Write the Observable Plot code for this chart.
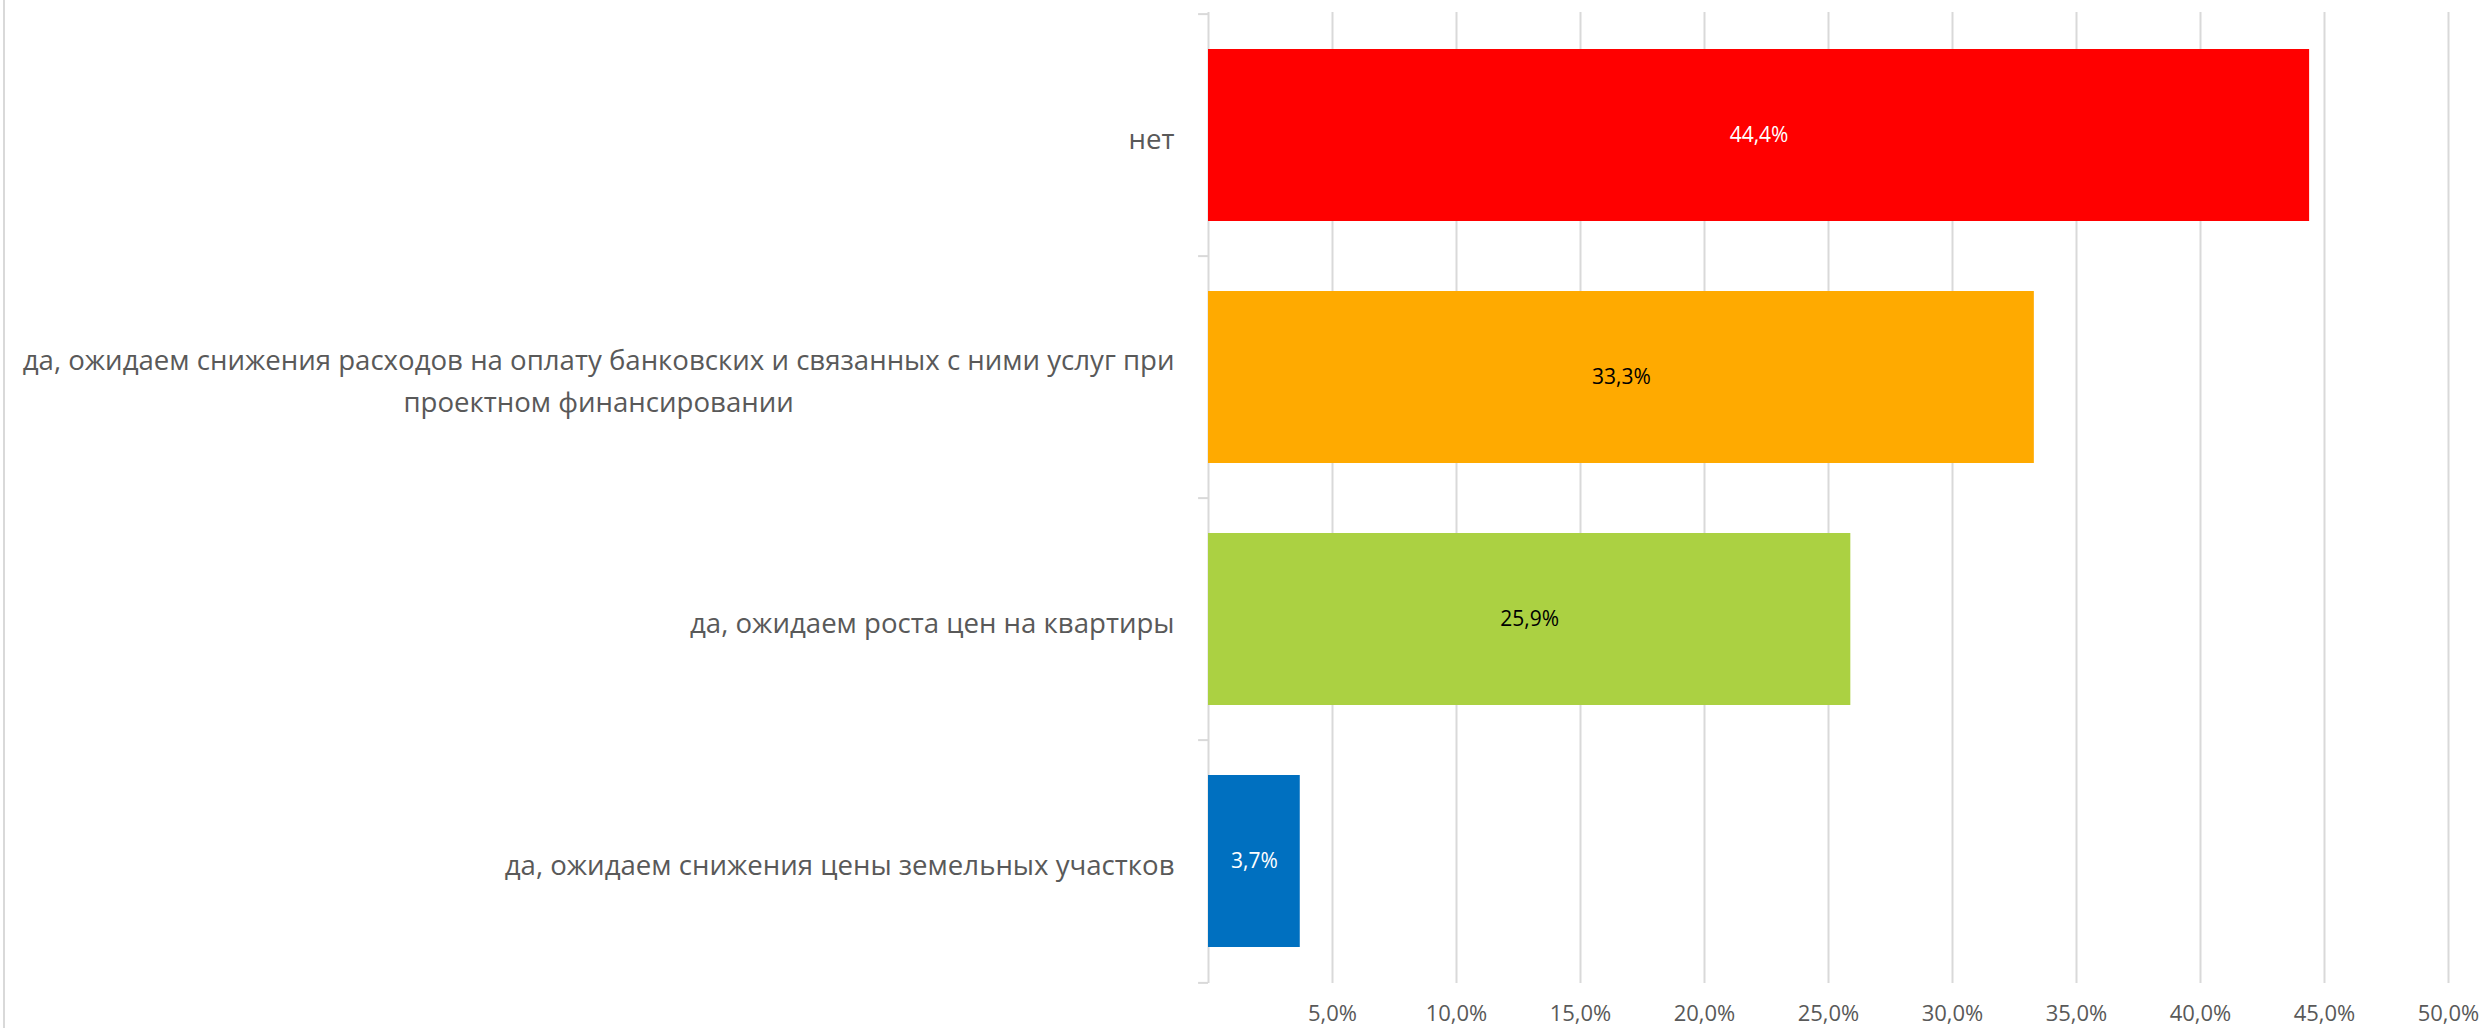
<!DOCTYPE html>
<html>
<head>
<meta charset="utf-8">
<script src="https://cdn.jsdelivr.net/npm/d3@7"></script>
<script src="https://cdn.jsdelivr.net/npm/@observablehq/plot@0.6"></script>
<style>
  html, body { margin: 0; padding: 0; background: #fff; }
  #wrap { position: relative; width: 2484px; height: 1028px; }
  #edge { position: absolute; left: 3px; top: 0; width: 2px; height: 1028px; background: #d9d9d9; }
</style>
</head>
<body>
<div id="wrap"><div id="edge"></div></div>
<script>
const categories = [
  "нет",
  "да, ожидаем снижения расходов на оплату банковских и связанных с ними услуг при\nпроектном финансировании",
  "да, ожидаем роста цен на квартиры",
  "да, ожидаем снижения цены земельных участков"
];
const values = [44.4, 33.3, 25.9, 3.7];
const barColors = ["#FF0000", "#FFAA00", "#ABD142", "#0070C0"];
const valueLabelColors = ["#FFFFFF", "#000000", "#000000", "#FFFFFF"];
const xTicks = [5, 10, 15, 20, 25, 30, 35, 40, 45, 50];

const data = categories.map((c, i) => ({cat: c, value: values[i], color: barColors[i], lc: valueLabelColors[i]}));
const fmt = v => v.toFixed(1).replace(".", ",") + "%";

const W = 2484, H = 1028;
const mTop = 12, mBottom = 45, mLeft = 1208, mRight = 36;
const step = (H - mTop - mBottom) / categories.length;
const font = "'Open Sans', 'Noto Sans', sans-serif";

const svg = Plot.plot({
  width: W,
  height: H,
  marginTop: mTop,
  marginBottom: mBottom,
  marginLeft: mLeft,
  marginRight: mRight,
  style: {fontFamily: font, background: "#fff"},
  x: {domain: [0, 50], label: null},
  y: {domain: categories, paddingInner: 0.29, paddingOuter: 0.145, label: null},
  marks: [
    Plot.gridX(xTicks, {stroke: "#d9d9d9", strokeOpacity: 1, strokeWidth: 2}),
    Plot.ruleX([0], {stroke: "#d9d9d9", strokeWidth: 2}),
    Plot.ruleY(categories, {y: d => d, dy: -step / 2, x1: -0.4, x2: 0, stroke: "#d9d9d9", strokeWidth: 2}),
    Plot.ruleY([categories[categories.length - 1]], {y: d => d, dy: step / 2, x1: -0.4, x2: 0, stroke: "#d9d9d9", strokeWidth: 2}),
    Plot.barX(data, {y: "cat", x: "value", fill: "color"}),
    Plot.text(data, {y: "cat", x: d => d.value / 2, text: d => fmt(d.value), fill: "lc", fontSize: 21, fontFamily: font}),
    Plot.axisX(xTicks, {tickSize: 0, tickPadding: 22, tickFormat: fmt, fontSize: 22, fill: "#595959", fontFamily: font, label: null}),
    Plot.axisY({tickSize: 0, tickPadding: 34, fontSize: 27.6, lineHeight: 1.52, fill: "#595959", fontFamily: font, label: null})
  ]
});

document.getElementById("wrap").appendChild(svg);

// Excel centers wrapped lines of a category label
svg.querySelectorAll('g[aria-label="y-axis tick label"] text').forEach(t => {
  const ts = t.querySelectorAll("tspan");
  if (ts.length > 1) {
    const w = ts[0].getComputedTextLength();
    t.setAttribute("text-anchor", "middle");
    ts.forEach(s => s.setAttribute("x", -w / 2));
  }
});
</script>
</body>
</html>
